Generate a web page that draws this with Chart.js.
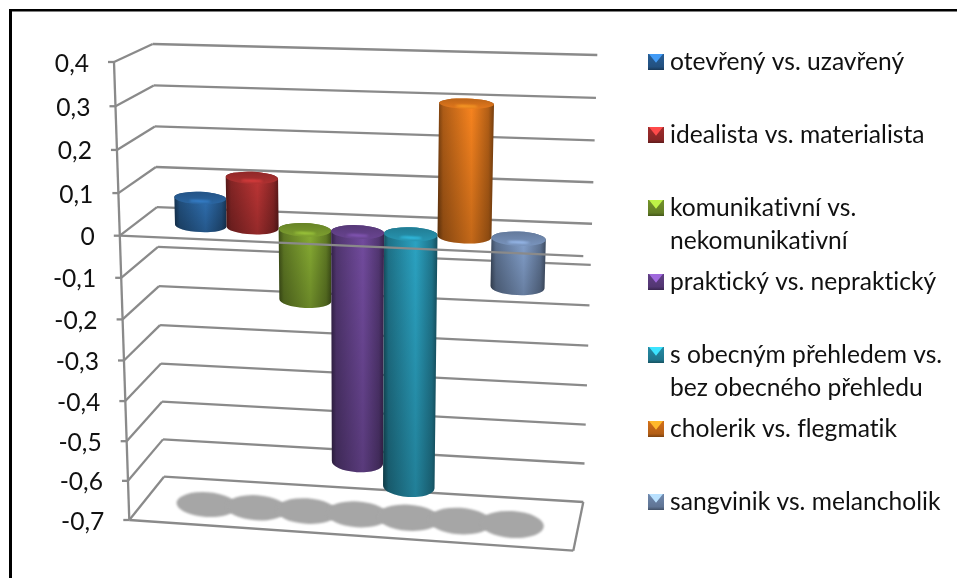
<!DOCTYPE html>
<html>
<head>
<meta charset="utf-8">
<title>Osobnostní rysy</title>
<script src="https://cdn.jsdelivr.net/npm/chart.js@4"></script>
<style>
    html, body { margin: 0; padding: 0; background: #fff; }
    canvas { display: block; }
</style>
</head>
<body>
<canvas id="myChart" width="957" height="578"></canvas>
<script>
// the data
var seriesNames = [
    ["otevřený vs. uzavřený"],
    ["idealista vs. materialista"],
    ["komunikativní vs.", "nekomunikativní"],
    ["praktický vs. nepraktický"],
    ["s obecným přehledem vs.", "bez obecného přehledu"],
    ["cholerik vs. flegmatik"],
    ["sangvinik vs. melancholik"]
];
var seriesValues = [0.066, 0.119, -0.17, -0.567, -0.621, 0.308, -0.115];
var tickValues = [0.4, 0.3, 0.2, 0.1, 0, -0.1, -0.2, -0.3, -0.4, -0.5, -0.6, -0.7];
var tickLabels = ["0,4", "0,3", "0,2", "0,1", "0", "-0,1", "-0,2", "-0,3", "-0,4", "-0,5", "-0,6", "-0,7"];
var seriesColors = ["#2f6fb0", "#bd3535", "#88ad33", "#724b9e", "#2ba3c2", "#f8841f", "#84a1cd"];

var FONT_FAMILY = "Lato, 'Open Sans', sans-serif";
var GRID_COLOR = "#8a8a8a";

// corners of the box in page pixels: top left, top right, bottom right, bottom left
var frontPlane = squareToQuad([[114, 62], [589.4, 75.7], [573.3, 550.7], [129.3, 520]]);
var backPlane = squareToQuad([[152.7, 44], [597.3, 55], [583.3, 502], [164, 476.7]]);

var DEPTH_MID = 0.45;
var DEPTH_RADIUS = 0.225;

// legend rows, center of the marker and of each text line
var legendMarkerX = 648;
var legendTextX = 670;
var legendRows = [[62], [135], [208, 241], [282], [355, 388], [429], [502]];

function squareToQuad(q) {
    var dx1 = q[1][0] - q[2][0], dx2 = q[3][0] - q[2][0], sx = q[0][0] - q[1][0] + q[2][0] - q[3][0];
    var dy1 = q[1][1] - q[2][1], dy2 = q[3][1] - q[2][1], sy = q[0][1] - q[1][1] + q[2][1] - q[3][1];
    var den = dx1 * dy2 - dx2 * dy1;
    var g = (sx * dy2 - dx2 * sy) / den;
    var h = (dx1 * sy - sx * dy1) / den;
    return {
        a: q[1][0] - q[0][0] + g * q[1][0], b: q[3][0] - q[0][0] + h * q[3][0], c: q[0][0],
        d: q[1][1] - q[0][1] + g * q[1][1], e: q[3][1] - q[0][1] + h * q[3][1], f: q[0][1],
        g: g, h: h
    };
}

function applyPlane(m, u, v) {
    var w = m.g * u + m.h * v + 1;
    return [(m.a * u + m.b * v + m.c) / w, (m.d * u + m.e * v + m.f) / w];
}

// u and v run 0..1 over the chart area, depth 0 is the front of the box
function project(u, v, depth) {
    var f = applyPlane(frontPlane, u, v);
    var b = applyPlane(backPlane, u, v);
    return [f[0] + (b[0] - f[0]) * depth, f[1] + (b[1] - f[1]) * depth];
}

function shade(hex, k) {
    var n = parseInt(hex.slice(1), 16);
    var r = Math.min(255, Math.round((n >> 16) * k));
    var g = Math.min(255, Math.round(((n >> 8) & 255) * k));
    var b = Math.min(255, Math.round((n & 255) * k));
    return "rgb(" + r + "," + g + "," + b + ")";
}

function line(ctx, p, q) {
    ctx.beginPath();
    ctx.moveTo(p[0], p[1]);
    ctx.lineTo(q[0], q[1]);
    ctx.stroke();
}

// the disc of a cylinder at a given height
function discAt(u, halfU, v) {
    var c = project(u, v, DEPTH_MID);
    var l = project(u - halfU, v, DEPTH_MID);
    var r = project(u + halfU, v, DEPTH_MID);
    var near = project(u, v, DEPTH_MID - DEPTH_RADIUS);
    var far = project(u, v, DEPTH_MID + DEPTH_RADIUS);
    return {
        x: c[0], y: c[1],
        rx: (r[0] - l[0]) / 2,
        ry: Math.abs(near[1] - far[1]) / 2,
        angle: Math.atan2(r[1] - l[1], r[0] - l[0])
    };
}

function drawCylinder(ctx, color, upper, lower) {
    var left = Math.min(upper.x - upper.rx, lower.x - lower.rx);
    var right = Math.max(upper.x + upper.rx, lower.x + lower.rx);

    // side
    ctx.beginPath();
    ctx.ellipse(upper.x, upper.y, upper.rx, upper.ry, upper.angle, Math.PI, 0, false);
    ctx.ellipse(lower.x, lower.y, lower.rx, lower.ry, lower.angle, 0, Math.PI, false);
    ctx.closePath();
    var side = ctx.createLinearGradient(left, 0, right, 0);
    side.addColorStop(0, shade(color, 0.45));
    side.addColorStop(0.1, shade(color, 0.7));
    side.addColorStop(0.6, shade(color, 1));
    side.addColorStop(0.9, shade(color, 0.72));
    side.addColorStop(1, shade(color, 0.48));
    ctx.fillStyle = side;
    ctx.fill();

    // darker towards the lower end
    var fall = ctx.createLinearGradient(0, upper.y, 0, lower.y + lower.ry);
    fall.addColorStop(0, "rgba(0,0,0,0)");
    fall.addColorStop(1, "rgba(0,0,0,0.22)");
    ctx.fillStyle = fall;
    ctx.fill();

    // cap
    ctx.beginPath();
    ctx.ellipse(upper.x, upper.y, upper.rx, upper.ry, upper.angle, 0, Math.PI * 2);
    var cap = ctx.createLinearGradient(0, upper.y - upper.ry, 0, upper.y + upper.ry);
    cap.addColorStop(0, shade(color, 0.76));
    cap.addColorStop(1, shade(color, 0.92));
    ctx.fillStyle = cap;
    ctx.fill();

    // small highlight near the front rim of the cap
    ctx.save();
    ctx.filter = "blur(1px)";
    ctx.fillStyle = shade(color, 1.25);
    ctx.beginPath();
    ctx.ellipse(upper.x, upper.y + upper.ry * 0.5, upper.rx * 0.42, 1, upper.angle, 0, Math.PI * 2);
    ctx.fill();
    ctx.restore();
}

function drawLegendMarker(ctx, x, cy, color) {
    var s = 16, y = cy - s / 2;
    var body = ctx.createLinearGradient(0, y, 0, y + s);
    body.addColorStop(0, shade(color, 0.85));
    body.addColorStop(0.8, shade(color, 0.72));
    body.addColorStop(1, shade(color, 0.5));
    ctx.fillStyle = body;
    ctx.fillRect(x, y, s, s);
    ctx.fillStyle = shade(color, 1.4);
    ctx.beginPath();
    ctx.moveTo(x + 1, y);
    ctx.lineTo(x + s - 1, y);
    ctx.lineTo(x + s / 2, y + s * 0.55);
    ctx.closePath();
    ctx.fill();
}

// walls, floor, cylinders and legend are drawn on top of the scales of the chart
var boxPlugin = {
    id: "cylinderBox",
    afterDatasetsDraw: function (chart) {
        var ctx = chart.ctx;
        var area = chart.chartArea;
        var yScale = chart.scales.y;
        var toV = function (px) { return (px - area.top) / area.height; };
        var toU = function (px) { return (px - area.left) / area.width; };

        ctx.save();

        // frame of the page
        ctx.fillStyle = "#000";
        ctx.fillRect(9, 9, 948, 2.5);
        ctx.fillRect(9, 9, 3, 569);

        // grid on the left wall and the back wall
        ctx.strokeStyle = GRID_COLOR;
        ctx.lineWidth = 2.3;
        ctx.font = "24.6px " + FONT_FAMILY;
        ctx.letterSpacing = "0.01px"; // keeps "fl" as two letters
        ctx.textAlign = "right";
        ctx.textBaseline = "alphabetic";
        tickValues.forEach(function (value, i) {
            var v = toV(yScale.getPixelForValue(value));
            var front = project(0, v, 0);
            line(ctx, front, project(0, v, 1));
            line(ctx, project(0, v, 1), project(1, v, 1));
            line(ctx, [front[0] - 6, front[1]], front);
            ctx.fillStyle = "#111";
            ctx.fillText(tickLabels[i], front[0] - 25, front[1] + 9.5);
        });

        var vTop = toV(yScale.getPixelForValue(yScale.max));
        var vBottom = toV(yScale.getPixelForValue(yScale.min));
        var vZero = toV(yScale.getPixelForValue(0));

        // vertical axis and the floor edges
        line(ctx, project(0, vTop, 0), project(0, vBottom, 0));
        line(ctx, project(0, vBottom, 0), project(1, vBottom, 0));
        line(ctx, project(1, vBottom, 0), project(1, vBottom, 1));

        // shadows on the floor
        ctx.save();
        ctx.filter = "blur(1px)";
        ctx.fillStyle = "#a6a6a6";
        seriesValues.forEach(function (value, i) {
            var bar = chart.getDatasetMeta(i).data[0];
            var halfU = bar.width / 2 / area.width;
            var d = discAt(toU(bar.x), halfU * 1.22, vBottom);
            ctx.beginPath();
            ctx.ellipse(d.x, d.y, d.rx, d.ry * 1.25, d.angle, 0, Math.PI * 2);
            ctx.fill();
        });
        ctx.restore();

        // one cylinder per series, each from zero to its value
        seriesValues.forEach(function (value, i) {
            var bar = chart.getDatasetMeta(i).data[0];
            var u = toU(bar.x);
            var halfU = bar.width / 2 / area.width;
            var upper = discAt(u, halfU, toV(Math.min(bar.y, bar.base)));
            var lower = discAt(u, halfU, toV(Math.max(bar.y, bar.base)));
            drawCylinder(ctx, seriesColors[i], upper, lower);
        });

        // front edge of the zero plane runs over the cylinders
        line(ctx, project(0, vZero, 0), project(1, vZero, 0));

        // legend
        ctx.font = "24.6px " + FONT_FAMILY;
        ctx.textAlign = "left";
        seriesNames.forEach(function (lines, i) {
            var rows = legendRows[i];
            drawLegendMarker(ctx, legendMarkerX, rows[0], seriesColors[i]);
            ctx.fillStyle = "#111";
            lines.forEach(function (text, k) {
                ctx.fillText(text, legendTextX, rows[k] + 7.5);
            });
        });

        ctx.restore();
    }
};

var chartDatasets = seriesNames.map(function (lines, i) {
    return {
        label: lines.join(" "),
        data: [seriesValues[i]],
        backgroundColor: "rgba(0,0,0,0)",
        categoryPercentage: 0.823,
        barPercentage: 1
    };
});

var ctx = document.getElementById("myChart").getContext("2d");

var chart = new Chart(ctx, {
    type: "bar",
    data: {
        labels: [""],
        datasets: chartDatasets
    },
    options: {
        responsive: false,
        animation: false,
        layout: { padding: 0 },
        plugins: {
            legend: { display: false },
            tooltip: { enabled: false }
        },
        scales: {
            x: { display: false },
            y: {
                display: false,
                min: -0.7,
                max: 0.4,
                ticks: { stepSize: 0.1 }
            }
        }
    },
    plugins: [boxPlugin]
});
</script>
</body>
</html>
